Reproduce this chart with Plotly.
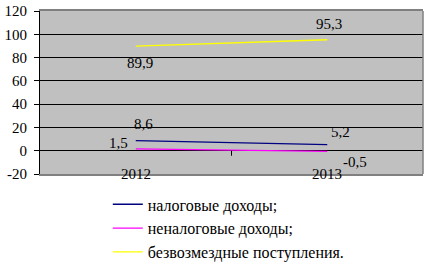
import plotly.graph_objects as go

years = ["2012", "2013"]
series_names = ["налоговые доходы;", "неналоговые доходы;", "безвозмездные поступления."]
tax = [8.6, 5.2]
nontax = [1.5, -0.5]
grants = [89.9, 95.3]
colors = ["#000080", "#FF00FF", "#FFFF00"]
# pixel offsets of the value labels (style only)
label_shift = [[(8, 16.5), (13, 13)], [(-17, 6), (28, -11)], [(4.5, -17), (2, 15.5)]]
y_ticks = [-20, 0, 20, 40, 60, 80, 100, 120]

FONT = "Liberation Serif, Times New Roman, serif"
fig = go.Figure()
xs = list(range(len(years)))
for name, vals, col, shifts in zip(series_names, [tax, nontax, grants], colors, label_shift):
    fig.add_trace(go.Scatter(
        x=xs, y=vals, name=name, mode="lines",
        line=dict(color=col, width=1.3),
        legendgroup=name,
    ))
    for xi, v, (dx, dy) in zip(xs, vals, shifts):
        fig.add_annotation(x=xi, y=v, text=f"{v:.1f}".replace(".", ","), showarrow=False,
                           xshift=dx, yshift=dy, xanchor="center", yanchor="middle",
                           font=dict(family=FONT, size=15, color="black"))

for i, y in enumerate(years):
    fig.add_annotation(x=i, y=-20, text=y, showarrow=False, xref="x", yref="y",
                       yanchor="middle", font=dict(family=FONT, size=15, color="black"))

# category boundary tick on the zero line
fig.add_shape(type="line", xref="x", yref="y", x0=0.5, x1=0.5, ysizemode="pixel",
              yanchor=0, y0=0, y1=-5, line=dict(color="black", width=1))
# right border
fig.add_shape(type="line", xref="paper", yref="paper", x0=1, x1=1, y0=0, y1=1,
              line=dict(color="#808080", width=1.5))

fig.update_layout(
    width=429, height=264,
    margin=dict(l=39.5, r=5.5, t=10.5, b=89.5, autoexpand=False),
    paper_bgcolor="white", plot_bgcolor="#C0C0C0",
    font=dict(family=FONT, size=15, color="black"),
    showlegend=True,
    legend=dict(x=0.177, y=-0.082, xanchor="left", yanchor="top",
                font=dict(family=FONT, size=16, color="black"),
                tracegroupgap=0, bgcolor="rgba(0,0,0,0)"),
    xaxis=dict(range=[-0.5, 1.5], showgrid=False, zeroline=False, showticklabels=False,
               showline=True, linecolor="#808080", linewidth=1.5, mirror=True, ticks=""),
    yaxis=dict(range=[-20, 120], tickvals=y_ticks, ticktext=[str(v) for v in y_ticks],
               showgrid=True, gridcolor="black", gridwidth=1, zeroline=False,
               showline=True, linecolor="black", linewidth=1, ticks="outside",
               ticklen=5, tickcolor="black", ticklabelstandoff=4,
               tickfont=dict(family=FONT, size=15, color="black")),
)

fig.write_html("out.html")
